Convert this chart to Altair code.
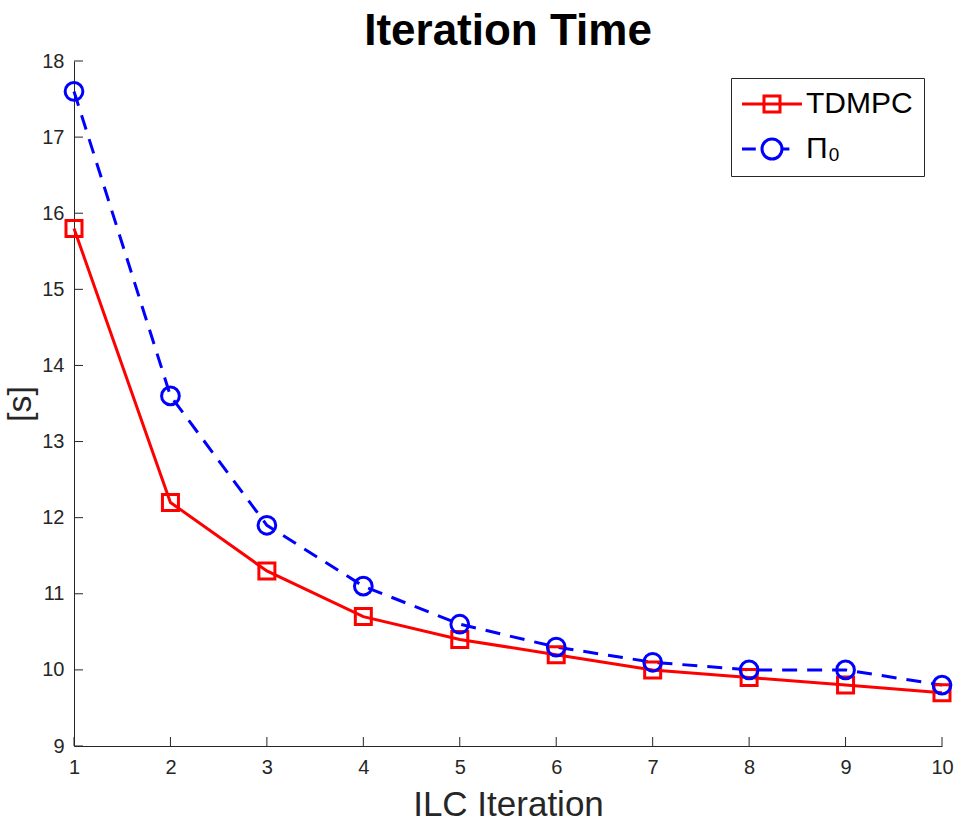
import altair as alt
import pandas as pd

# ---- data ----
iterations = [1, 2, 3, 4, 5, 6, 7, 8, 9, 10]
tdmpc = [15.8, 12.2, 11.3, 10.7, 10.4, 10.2, 10.0, 9.9, 9.8, 9.7]
pi0 = [17.6, 13.6, 11.9, 11.1, 10.6, 10.3, 10.1, 10.0, 10.0, 9.8]
series_names = ["TDMPC", "Π₀"]
x_ticks = [1, 2, 3, 4, 5, 6, 7, 8, 9, 10]
y_ticks = [9, 10, 11, 12, 13, 14, 15, 16, 17, 18]

df = pd.DataFrame({
    "iteration": iterations * 2,
    "value": tdmpc + pi0,
    "series": [series_names[0]] * len(iterations) + [series_names[1]] * len(iterations),
})
xt = pd.DataFrame({"iteration": x_ticks})
yt = pd.DataFrame({"value": y_ticks})

W, H = 868, 685
AX = "#262626"
FONT = "Liberation Sans"
RED = "#FF0000"
BLUE = "#0000FF"

xscale = alt.Scale(domain=[1, 10], nice=False, zero=False)
yscale = alt.Scale(domain=[9, 18], nice=False, zero=False)
color_scale = alt.Scale(domain=series_names, range=[RED, BLUE])

# legend symbol paths (unit box: 1 unit = 12 px)
path_tdmpc = "M-2.5,0H2.5M-0.667,-0.667H0.667V0.667H-0.667Z"
path_pi0 = ("M-2.5,0H-1.35M-0.833,0A0.833,0.833 0 1,1 0.833,0"
            "A0.833,0.833 0 1,1 -0.833,0M0.833,0H1.45")

x_axis = alt.Axis(
    values=x_ticks, ticks=False, grid=False, labelPadding=11, labelFlush=False,
    labelFont=FONT, labelFontSize=20, labelColor=AX,
    domainColor=AX, domainWidth=1,
    title="ILC Iteration", titleFont=FONT, titleFontSize=35,
    titleFontWeight="normal", titleColor=AX,
    titleBaseline="alphabetic", titleY=69,
)
y_axis = alt.Axis(
    values=y_ticks, ticks=False, grid=False, labelPadding=10, labelFlush=False,
    labelFont=FONT, labelFontSize=20, labelColor=AX,
    domainColor=AX, domainWidth=1,
    title="[s]", titleFont=FONT, titleFontSize=34,
    titleFontWeight="normal", titleColor=AX,
    titleBaseline="alphabetic", titleX=-44, titleY=H / 2, titleAlign="center",
    titleAngle=270,
)

X = alt.X("iteration:Q", scale=xscale, axis=x_axis)
Y = alt.Y("value:Q", scale=yscale, axis=y_axis)

line_red = alt.Chart(df).transform_filter(
    alt.datum.series == series_names[0]
).mark_line(strokeWidth=3, color=RED).encode(x=X, y=Y)

line_blue = alt.Chart(df).transform_filter(
    alt.datum.series == series_names[1]
).mark_line(strokeWidth=3, color=BLUE, strokeDash=[15, 10]).encode(x=X, y=Y)

pts_red = alt.Chart(df).transform_filter(
    alt.datum.series == series_names[0]
).mark_point(shape="square", size=256, filled=False, strokeWidth=3,
             opacity=1, color=RED).encode(x=X, y=Y)

pts_blue = alt.Chart(df).transform_filter(
    alt.datum.series == series_names[1]
).mark_point(shape="circle", size=314, filled=False, strokeWidth=3,
             opacity=1, color=BLUE).encode(x=X, y=Y)

xticks_layer = alt.Chart(xt).mark_rule(color=AX, strokeWidth=1).encode(
    x=X, y=alt.value(H), y2=alt.value(H - 9),
)
yticks_layer = alt.Chart(yt).mark_rule(color=AX, strokeWidth=1).encode(
    y=Y, x=alt.value(0), x2=alt.value(9),
)

leg = alt.Legend(
    title=None, orient="none", legendX=657, legendY=17,
    labelFont=FONT, labelFontSize=30, labelColor="black",
    strokeColor=AX, fillColor="white", padding=11, rowPadding=14,
    symbolOffset=15, labelOffset=19, symbolSize=576, symbolStrokeWidth=3,
)
legend_layer = alt.Chart(df).transform_filter(
    alt.datum.iteration < 0
).mark_point(filled=False, strokeWidth=3, opacity=1).encode(
    x=X, y=Y,
    color=alt.Color("series:N", scale=color_scale, legend=leg),
    shape=alt.Shape("series:N",
                    scale=alt.Scale(domain=series_names, range=[path_tdmpc, path_pi0]),
                    legend=leg),
)

chart = alt.layer(
    line_red, line_blue, pts_red, pts_blue, xticks_layer, yticks_layer, legend_layer
).properties(
    width=W, height=H,
    background="white",
    title=alt.TitleParams(
        "Iteration Time", font=FONT, fontSize=44, fontWeight="bold",
        color="black", anchor="middle", baseline="alphabetic", offset=-38,
    ),
    autosize=alt.AutoSizeParams(type="none"),
    padding={"left": 74, "top": 61, "right": 12, "bottom": 92},
).configure_view(stroke=None)

chart.save("out.html", embed_options={"renderer": "svg", "actions": False})
